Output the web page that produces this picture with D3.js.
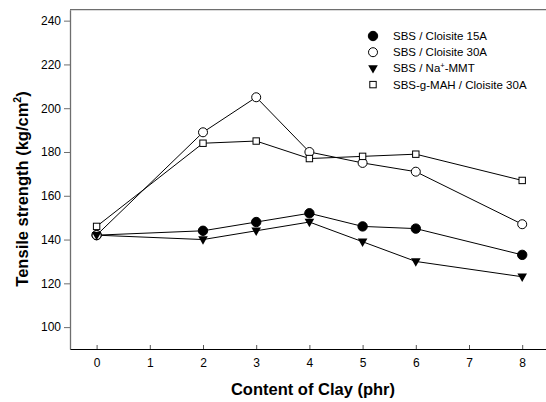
<!DOCTYPE html>
<html>
<head>
<meta charset="utf-8">
<script src="https://cdn.jsdelivr.net/npm/d3@7"></script>
<style>
  body { margin: 0; background: #fff; }
  text { font-family: "Liberation Sans", Arial, sans-serif; }
</style>
</head>
<body>
<svg id="chart"></svg>
<script>
const WIDTH = 546;
const HEIGHT = 402;

// clay content (phr)
const CLAY = [0, 2, 3, 4, 5, 6, 8];

// tensile strength (kg/cm2)
const SBS_15A = [142, 144, 148, 152, 146, 145, 133];
const SBS_30A = [142, 189, 205, 180, 175, 171, 147];
const SBS_NA = [142, 140, 144, 148, 139, 130, 123];
const MAH_30A = [146, 184, 185, 177, 178, 179, 167];

const X_TICKS = [0, 1, 2, 3, 4, 5, 6, 7, 8];
const Y_TICKS = [100, 120, 140, 160, 180, 200, 220, 240];

const SERIES = [
  { name: "SBS / Cloisite 15A", values: SBS_15A, marker: "filledCircle" },
  { name: "SBS / Cloisite 30A", values: SBS_30A, marker: "openCircle" },
  { name: "SBS / Na+-MMT", values: SBS_NA, marker: "triangle" },
  { name: "SBS-g-MAH / Cloisite 30A", values: MAH_30A, marker: "square" }
];

const margin = { left: 70, top: 9.7, bottom: 349 };

const x = d3.scaleLinear().domain([-0.5, 8.5]).range([margin.left, 548.8]);
const y = d3.scaleLinear().domain([90, 245]).range([margin.bottom, margin.top]);

const svg = d3.select('#chart')
              .attr('width', WIDTH)
              .attr('height', HEIGHT);

// frame: top and left in grey, bottom in black
svg.append('line')
   .attr('x1', margin.left).attr('x2', WIDTH)
   .attr('y1', margin.top).attr('y2', margin.top)
   .attr('stroke', '#6e6e6e').attr('stroke-width', 1.3);

// y axis
const yAxis = svg.append('g')
   .attr('transform', `translate(${margin.left},0)`)
   .call(d3.axisLeft(y).tickValues(Y_TICKS).tickSize(6).tickPadding(3).tickSizeOuter(0));
yAxis.select('.domain').attr('stroke', '#6e6e6e').attr('stroke-width', 1.3);
yAxis.selectAll('.tick line').attr('stroke', '#6e6e6e');
yAxis.selectAll('.tick text')
     .attr('font-size', '12px')
     .attr('font-family', '"Liberation Sans", Arial, sans-serif')
     .attr('fill', '#000');

// x axis, ticks point inward
const xAxis = svg.append('g')
   .attr('transform', `translate(0,${margin.bottom})`)
   .call(d3.axisBottom(x).tickValues(X_TICKS).tickSize(0).tickPadding(9).tickSizeOuter(0));
xAxis.select('.domain').attr('stroke', '#000').attr('stroke-width', 1.2);
xAxis.selectAll('.tick').append('line')
     .attr('y1', 0).attr('y2', -4)
     .attr('stroke', '#555');
xAxis.selectAll('.tick text')
     .attr('font-size', '12px')
     .attr('font-family', '"Liberation Sans", Arial, sans-serif')
     .attr('fill', '#000');

// axis titles
svg.append('text')
   .attr('x', 313).attr('y', 395)
   .attr('text-anchor', 'middle')
   .attr('font-size', '16.5px')
   .attr('font-weight', 'bold')
   .text('Content of Clay (phr)');

const yTitle = svg.append('text')
   .attr('transform', 'translate(28,189) rotate(-90)')
   .attr('text-anchor', 'middle')
   .attr('font-size', '16.5px')
   .attr('font-weight', 'bold');
yTitle.append('tspan').text('Tensile strength (kg/cm');
yTitle.append('tspan').attr('font-size', '10.5px').attr('dy', -7).text('2');
yTitle.append('tspan').attr('dy', 7).text(')');

// markers
function drawMarker(g, type) {
  if (type === 'filledCircle') {
    g.append('circle').attr('r', 4.7).attr('fill', '#000').attr('stroke', '#000');
  } else if (type === 'openCircle') {
    g.append('circle').attr('r', 4.5).attr('fill', '#fff').attr('stroke', '#000').attr('stroke-width', 1);
  } else if (type === 'triangle') {
    g.append('path').attr('d', 'M-4.8,-3.2L4.8,-3.2L0,5.2Z').attr('fill', '#000');
  } else if (type === 'square') {
    g.append('rect').attr('x', -3.2).attr('y', -3.2).attr('width', 6.4).attr('height', 6.4)
     .attr('fill', '#fff').attr('stroke', '#000').attr('stroke-width', 1);
  }
}

const line = d3.line()
  .x(d => x(d[0]))
  .y(d => y(d[1]));

SERIES.forEach(s => {
  svg.append('path')
     .datum(CLAY.map((c, i) => [c, s.values[i]]))
     .attr('fill', 'none')
     .attr('stroke', '#000')
     .attr('stroke-width', 1)
     .attr('d', line);
});

SERIES.forEach(s => {
  CLAY.forEach((c, i) => {
    const g = svg.append('g').attr('transform', `translate(${x(c)},${y(s.values[i])})`);
    drawMarker(g, s.marker);
  });
});

// legend
const legend = svg.append('g').attr('transform', 'translate(373,36)');
SERIES.forEach((s, i) => {
  const row = legend.append('g').attr('transform', `translate(0,${i * 16.2})`);
  drawMarker(row.append('g'), s.marker);
  const t = row.append('text')
     .attr('x', 20).attr('y', 4)
     .attr('font-size', '11.5px');
  if (s.marker === 'triangle') {
    t.append('tspan').text('SBS / Na');
    t.append('tspan').attr('font-size', '7.5px').attr('dy', -4).text('+');
    t.append('tspan').attr('dy', 4).text('-MMT');
  } else {
    t.text(s.name);
  }
});
</script>
</body>
</html>
